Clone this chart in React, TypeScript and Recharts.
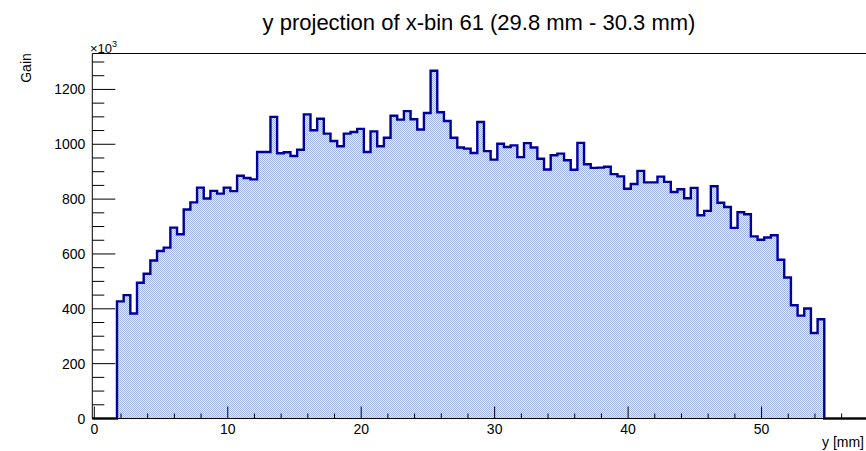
import React from "react";
import {
  ComposedChart,
  Area,
  XAxis,
  YAxis,
  ReferenceLine,
} from "recharts";

// Histogram binning along y [mm]
const binStart = 1.7;
const binWidth = 0.5;

// Bin contents (Gain, in units of 10^3), one value per 0.5 mm bin
const gain = [
  427, 450, 383, 495, 528, 576, 611, 623, 696, 672,
  762, 788, 842, 802, 830, 820, 842, 829, 885, 877,
  872, 972, 972, 1100, 967, 971, 957, 980, 1109, 1051,
  1093, 1039, 1012, 993, 1039, 1045, 1056, 972, 1047, 993,
  1024, 1104, 1090, 1121, 1091, 1054, 1114, 1268, 1117, 1085,
  1024, 988, 984, 968, 1081, 975, 944, 1002, 990, 996,
  953, 1004, 988, 947, 908, 960, 966, 942, 907, 1005,
  927, 914, 915, 918, 891, 883, 838, 855, 903, 861,
  861, 882, 863, 826, 836, 803, 841, 741, 757, 847,
  787, 771, 695, 752, 745, 664, 652, 660, 668, 579,
  514, 413, 375, 401, 312, 362,
];

const xDomain: [number, number] = [-0.15, 59.85];
const yDomain: [number, number] = [0, 1331];

const xTicks = Array.from({ length: 30 }, (_, i) => i * 2);
const yTicks = Array.from({ length: 27 }, (_, i) => i * 50);

const title = "y projection of x-bin 61 (29.8 mm - 30.3 mm)";
const xTitle = "y [mm]";
const yTitle = "Gain";

// Step data: each point opens a bin, the histogram is zero outside the filled range
const data = [
  { pos: xDomain[0], gain: 0 },
  ...gain.map((g, i) => ({ pos: +(binStart + i * binWidth).toFixed(2), gain: g })),
  { pos: +(binStart + gain.length * binWidth).toFixed(2), gain: 0 },
  { pos: xDomain[1], gain: 0 },
];

const FONT = "'Liberation Sans', Arial, Helvetica, sans-serif";
const LINE = "#000099";

function XTick(props: any) {
  const { x, y, payload } = props;
  const v = payload.value as number;
  const major = v % 10 === 0;
  return (
    <g>
      <line x1={x} x2={x} y1={y} y2={y - (major ? 12 : 5)} stroke="#000" strokeWidth={1} />
      {major && (
        <text x={x} y={y + 15} textAnchor="middle" fontSize={14} fontFamily={FONT} fill="#000">
          {v}
        </text>
      )}
    </g>
  );
}

function YTick(props: any) {
  const { x, y, payload } = props;
  const v = payload.value as number;
  const major = v % 200 === 0;
  return (
    <g>
      <line x1={x} x2={x + (major ? 23 : 12)} y1={y} y2={y} stroke="#000" strokeWidth={1} />
      {major && (
        <text x={x - 7} y={y} dy="0.36em" textAnchor="end" fontSize={14} fontFamily={FONT} fill="#000">
          {v}
        </text>
      )}
    </g>
  );
}

export default function App() {
  return (
    <div
      style={{
        position: "fixed",
        left: 0,
        top: 0,
        width: 866,
        height: 451,
        overflow: "hidden",
        background: "#fff",
      }}
    >
      <ComposedChart
        width={900}
        height={451}
        data={data}
        margin={{ top: 53.5, right: 7, bottom: 31.5, left: 91.3 }}
      >
        <defs>
          <pattern id="hatch" width="2" height="2" patternUnits="userSpaceOnUse">
            <rect x="0" y="0" width="2" height="2" fill="#e6ecf8" />
            <rect x="0" y="0" width="1" height="1" fill="#9fb4e2" />
            <rect x="1" y="1" width="1" height="1" fill="#9fb4e2" />
          </pattern>
        </defs>
        <XAxis
          type="number"
          dataKey="pos"
          domain={xDomain}
          ticks={xTicks}
          interval={0}
          height={1}
          tickSize={0}
          tickMargin={0}
          tickLine={false}
          tick={<XTick />}
          axisLine={{ stroke: "#000", strokeWidth: 1 }}
          allowDecimals
        />
        <YAxis
          type="number"
          domain={yDomain}
          ticks={yTicks}
          interval={0}
          width={1}
          tickSize={0}
          tickMargin={0}
          tickLine={false}
          tick={<YTick />}
          axisLine={{ stroke: "#000", strokeWidth: 1 }}
        />
        <Area
          type="stepAfter"
          dataKey="gain"
          stroke={LINE}
          strokeWidth={2.4}
          fill="url(#hatch)"
          fillOpacity={1}
          baseValue={0}
          dot={false}
          activeDot={false}
          isAnimationActive={false}
        />
        <ReferenceLine y={yDomain[1]} stroke="#000" strokeWidth={1} />
        <ReferenceLine x={xDomain[1]} stroke="#000" strokeWidth={1} />
      </ComposedChart>
      <svg
        width={866}
        height={451}
        style={{ position: "absolute", left: 0, top: 0, pointerEvents: "none" }}
      >
        <text x={479} y={30} textAnchor="middle" fontSize={22} fontFamily={FONT} fill="#000">
          {title}
        </text>
        <text
          x={30.5}
          y={68}
          transform="rotate(-90 30.5 68)"
          textAnchor="middle"
          fontSize={14}
          fontFamily={FONT}
          fill="#000"
        >
          {yTitle}
        </text>
        <text x={90} y={53} fontSize={13} fontFamily={FONT} fill="#000">
          ×10
          <tspan fontSize={9} dy={-6}>
            3
          </tspan>
        </text>
        <text x={822} y={447} fontSize={14} fontFamily={FONT} fill="#000">
          {xTitle}
        </text>
      </svg>
    </div>
  );
}
